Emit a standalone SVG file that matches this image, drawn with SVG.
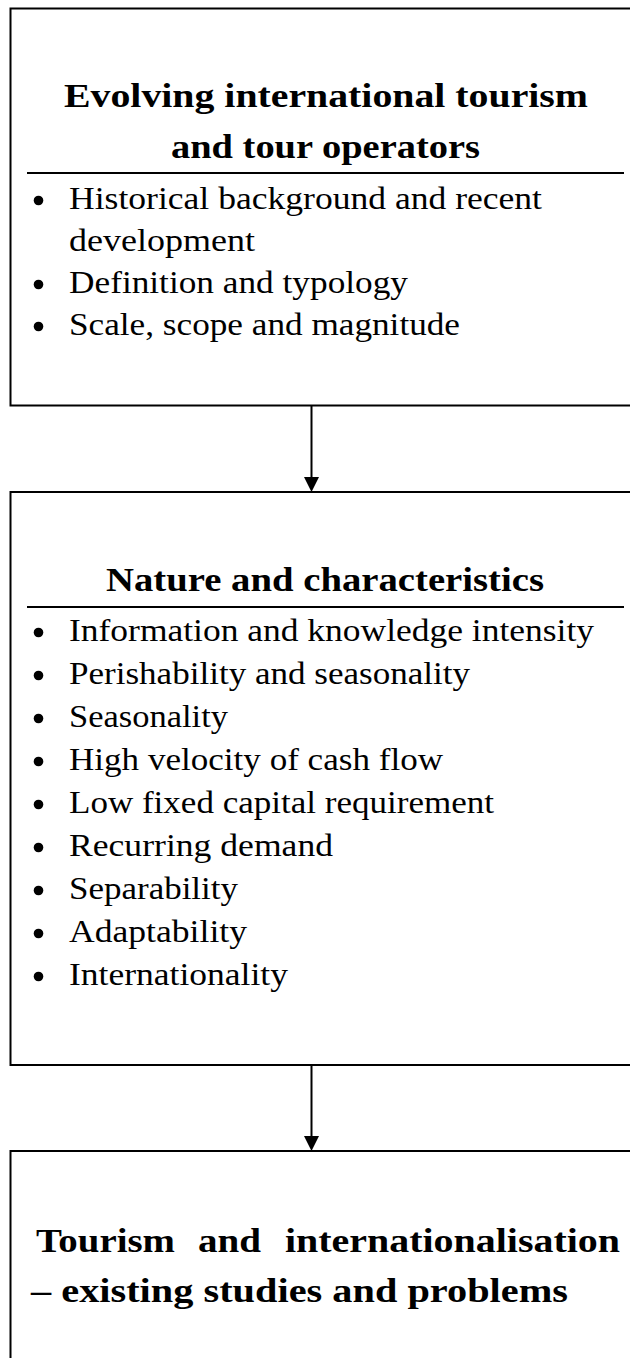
<svg xmlns="http://www.w3.org/2000/svg" width="630" height="1358" viewBox="0 0 630 1358">
  <style>
    .box { fill: #ffffff; stroke: #000000; stroke-width: 2; }
    .rule { stroke: #000000; stroke-width: 2; }
    .title { font-family: "Liberation Serif", "Times New Roman", serif; font-weight: bold; font-size: 34px; fill: #000000; }
    .item { font-family: "Liberation Serif", "Times New Roman", serif; font-size: 31px; fill: #000000; }
    .dot { fill: #000000; }
    .link { stroke: #000000; stroke-width: 2; fill: none; }
    .head { fill: #000000; }
  </style>

  <rect width="630" height="1358" fill="#ffffff"/>

  <!-- Box 1: evolving international tourism -->
  <g id="node-evolving">
    <rect class="box" x="10.5" y="8.5" width="640" height="397"/>
    <text class="title" x="64" y="107" textLength="524" lengthAdjust="spacingAndGlyphs">Evolving international tourism</text>
    <text class="title" x="171" y="158" textLength="309" lengthAdjust="spacingAndGlyphs">and tour operators</text>
    <line class="rule" x1="27" y1="173" x2="624" y2="173"/>
    <circle class="dot" cx="38.5" cy="200.5" r="4.8"/>
    <text class="item" x="69" y="209" textLength="473" lengthAdjust="spacingAndGlyphs">Historical background and recent</text>
    <text class="item" x="69" y="251" textLength="186" lengthAdjust="spacingAndGlyphs">development</text>
    <circle class="dot" cx="38.5" cy="284.5" r="4.8"/>
    <text class="item" x="69" y="293" textLength="339" lengthAdjust="spacingAndGlyphs">Definition and typology</text>
    <circle class="dot" cx="38.5" cy="326.5" r="4.8"/>
    <text class="item" x="69" y="335" textLength="391" lengthAdjust="spacingAndGlyphs">Scale, scope and magnitude</text>
  </g>

  <!-- Box 2: nature and characteristics -->
  <g id="node-nature">
    <rect class="box" x="10.5" y="492" width="640" height="573"/>
    <text class="title" x="106" y="591" textLength="438" lengthAdjust="spacingAndGlyphs">Nature and characteristics</text>
    <line class="rule" x1="27" y1="607" x2="624" y2="607"/>
    <circle class="dot" cx="38.5" cy="632.5" r="4.8"/>
    <text class="item" x="69" y="641" textLength="525" lengthAdjust="spacingAndGlyphs">Information and knowledge intensity</text>
    <circle class="dot" cx="38.5" cy="675.5" r="4.8"/>
    <text class="item" x="69" y="684" textLength="401" lengthAdjust="spacingAndGlyphs">Perishability and seasonality</text>
    <circle class="dot" cx="38.5" cy="718.5" r="4.8"/>
    <text class="item" x="69" y="727" textLength="159" lengthAdjust="spacingAndGlyphs">Seasonality</text>
    <circle class="dot" cx="38.5" cy="761.5" r="4.8"/>
    <text class="item" x="69" y="770" textLength="374" lengthAdjust="spacingAndGlyphs">High velocity of cash flow</text>
    <circle class="dot" cx="38.5" cy="804.5" r="4.8"/>
    <text class="item" x="69" y="813" textLength="425" lengthAdjust="spacingAndGlyphs">Low fixed capital requirement</text>
    <circle class="dot" cx="38.5" cy="847.5" r="4.8"/>
    <text class="item" x="69" y="856" textLength="264" lengthAdjust="spacingAndGlyphs">Recurring demand</text>
    <circle class="dot" cx="38.5" cy="890.5" r="4.8"/>
    <text class="item" x="69" y="899" textLength="169" lengthAdjust="spacingAndGlyphs">Separability</text>
    <circle class="dot" cx="38.5" cy="933.5" r="4.8"/>
    <text class="item" x="69" y="942" textLength="178" lengthAdjust="spacingAndGlyphs">Adaptability</text>
    <circle class="dot" cx="38.5" cy="976.5" r="4.8"/>
    <text class="item" x="69" y="985" textLength="219" lengthAdjust="spacingAndGlyphs">Internationality</text>
  </g>

  <!-- Box 3: tourism and internationalisation -->
  <g id="node-internationalisation">
    <rect class="box" x="10.5" y="1151" width="640" height="260"/>
    <text class="title" x="36" y="1252" textLength="139" lengthAdjust="spacingAndGlyphs">Tourism</text>
    <text class="title" x="198" y="1252" textLength="63" lengthAdjust="spacingAndGlyphs">and</text>
    <text class="title" x="285" y="1252" textLength="335" lengthAdjust="spacingAndGlyphs">internationalisation</text>
    <text class="title" x="31" y="1302" textLength="537" lengthAdjust="spacingAndGlyphs">– existing studies and problems</text>
  </g>

  <!-- Connectors -->
  <g id="connectors">
    <line class="link" x1="311.5" y1="405" x2="311.5" y2="478"/>
    <polygon class="head" points="304,477 319,477 311.5,492"/>
    <line class="link" x1="311.5" y1="1065" x2="311.5" y2="1137"/>
    <polygon class="head" points="304,1136 319,1136 311.5,1151"/>
  </g>
</svg>
